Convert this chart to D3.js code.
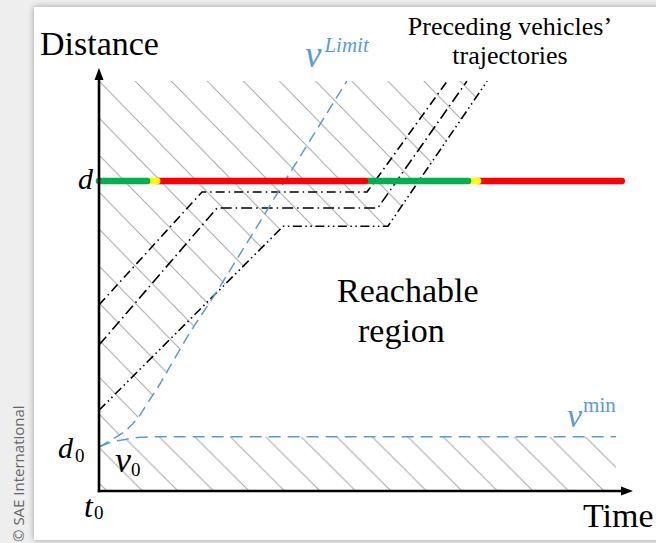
<!DOCTYPE html>
<html><head><meta charset="utf-8">
<script src="https://cdn.jsdelivr.net/npm/d3@7"></script>
<style>
body{margin:0;background:#eeeeee;}
svg{display:block;}
</style>
</head><body>
<script>
// ---------- data (time / distance in arbitrary units 0..100) ----------
const vLimitTime = [0, 2.6, 4.9, 7.1, 9.2, 11.4, 14.2, 17.0, 20.8, 26.4, 36.1, 46.4];
const vLimitDist = [10.4, 12.3, 14.2, 17.0, 21.0, 25.3, 31.4, 37.4, 44.7, 56.0, 75.9, 96.9];
const vMinTime = [0, 2.4, 4.9, 7.7, 10.5, 96.8];
const vMinDist = [10.4, 11.6, 12.2, 12.7, 12.8, 12.8];
const traj1Time = [0, 19.3, 50.2, 65.2];
const traj1Dist = [44.0, 70.7, 70.7, 96.9];
const traj2Time = [0, 22.1, 52.2, 68.9];
const traj2Dist = [34.5, 66.9, 66.9, 96.9];
const traj3Time = [0, 34.5, 54.1, 72.7];
const traj3Dist = [19.1, 62.6, 62.6, 96.9];
const signalStart = [0, 9.0, 10.9, 49.8, 69.1, 71.0];
const signalEnd   = [9.0, 10.9, 49.8, 69.1, 71.0, 97.9];
const signalColor = ["#00b050", "#ffff00", "#ff0000", "#00b050", "#ffff00", "#ff0000"];
const signalDist = 73.3;
const topDist = 96.9;
const distTickValues = [10.4, 73.3];
const distTickMain = ["d", "d"];
const distTickSub = ["0", ""];
const timeTickValues = [0];
const timeTickMain = ["t"];
const timeTickSub = ["0"];

// ---------- setup ----------
const W = 656, H = 543;
const x = d3.scaleLinear().domain([0, 100]).range([99, 633]);
const y = d3.scaleLinear().domain([0, 100]).range([491, 68]);
const serif = "'Liberation Serif','Times New Roman',serif";
const blue = "#5b9bd5";

const svg = d3.select("body").append("svg").attr("width", W).attr("height", H);
const defs = svg.append("defs");

// panel shadow
const f = defs.append("filter").attr("id", "sh").attr("x", "-5%").attr("y", "-5%").attr("width", "110%").attr("height", "110%");
f.append("feGaussianBlur").attr("in", "SourceAlpha").attr("stdDeviation", 3).attr("result", "b");
f.append("feOffset").attr("in", "b").attr("dx", 0).attr("dy", 0).attr("result", "o");
f.append("feComponentTransfer").attr("in", "o").attr("result", "o2")
  .append("feFuncA").attr("type", "linear").attr("slope", 0.35);
const fm = f.append("feMerge");
fm.append("feMergeNode").attr("in", "o2");
fm.append("feMergeNode").attr("in", "SourceGraphic");

svg.append("rect").attr("x", 34).attr("y", 7).attr("width", 640).attr("height", 533)
  .attr("fill", "#fff").attr("filter", "url(#sh)");

const zip = (ts, ds) => ts.map((t, i) => [t, ds[i]]);
const vLimit = zip(vLimitTime, vLimitDist);
const vMin = zip(vMinTime, vMinDist);
const trajs = [zip(traj1Time, traj1Dist), zip(traj2Time, traj2Dist), zip(traj3Time, traj3Dist)];

const lineLin = d3.line().x(d => x(d[0])).y(d => y(d[1]));
const lineCurve = d3.line().x(d => x(d[0])).y(d => y(d[1])).curve(d3.curveMonotoneX);

// hatch patterns
function hatch(id, w, h, ox, oy) {
  const p = defs.append("pattern").attr("id", id).attr("patternUnits", "userSpaceOnUse")
    .attr("x", ox).attr("y", oy).attr("width", w).attr("height", h);
  p.append("path")
    .attr("d", `M0,0L${w},${h}M${-3},${h - 3 * h / w}L3,${h + 3 * h / w}M${w - 3},${-3 * h / w}L${w + 3},${3 * h / w}`)
    .attr("stroke", "#a6a6a6").attr("stroke-width", 1).attr("fill", "none");
}
hatch("hU", 36.1, 37.0, 99, 81);
hatch("hL", 35.5, 35.5, 107, 491);

// clip: unreachable region above v^Limit OR above lowest preceding trajectory
const cU = defs.append("clipPath").attr("id", "cU");
cU.append("path").attr("d", lineCurve(vLimit) + `L${x(0)},${y(topDist)}Z`);
cU.append("path").attr("d", lineLin(trajs[2]) + `L${x(0)},${y(topDist)}Z`);
const cL = defs.append("clipPath").attr("id", "cL");
cL.append("path").attr("d", lineCurve(vMin) + `L${x(vMinTime[vMinTime.length - 1])},${y(0)}L${x(0)},${y(0)}Z`);

svg.append("rect").attr("x", 0).attr("y", 0).attr("width", W).attr("height", H)
  .attr("fill", "url(#hU)").attr("clip-path", "url(#cU)");
svg.append("rect").attr("x", 0).attr("y", 0).attr("width", W).attr("height", H)
  .attr("fill", "url(#hL)").attr("clip-path", "url(#cL)");

// preceding vehicles' trajectories
const dashes = ["9,4,1.5,4", "11,4,1.5,4", "9,3.5,1.5,3.5,1.5,3.5"];
trajs.forEach((tr, i) => {
  svg.append("path").attr("d", lineLin(tr)).attr("fill", "none")
    .attr("stroke", "#000").attr("stroke-width", 1.6).attr("stroke-dasharray", dashes[i]);
});

// speed limit curves
svg.append("path").attr("d", lineCurve(vLimit)).attr("fill", "none")
  .attr("stroke", blue).attr("stroke-width", 1.5).attr("stroke-dasharray", "11,6");
svg.append("path").attr("d", lineCurve(vMin)).attr("fill", "none")
  .attr("stroke", blue).attr("stroke-width", 1.5).attr("stroke-dasharray", "12,7");

// signal bar at distance d (drawn right to left so each right cap overlays next segment)
d3.range(signalStart.length).reverse().forEach(i => {
  svg.append("line")
    .attr("x1", x(signalStart[i])).attr("x2", x(signalEnd[i]))
    .attr("y1", y(signalDist)).attr("y2", y(signalDist))
    .attr("stroke", signalColor[i]).attr("stroke-width", 6.5).attr("stroke-linecap", "round");
});

// axes
svg.append("line").attr("x1", x(0)).attr("x2", x(0)).attr("y1", y(0) + 1.2).attr("y2", y(100) + 8)
  .attr("stroke", "#000").attr("stroke-width", 2.6);
svg.append("line").attr("x1", x(0) - 1.2).attr("x2", x(100) - 8).attr("y1", y(0)).attr("y2", y(0))
  .attr("stroke", "#000").attr("stroke-width", 2.6);
svg.append("path").attr("d", `M${x(0)},${y(100)}L${x(0) - 4.5},${y(100) + 12}L${x(0) + 4.5},${y(100) + 12}Z`).attr("fill", "#000");
svg.append("path").attr("d", `M${x(100)},${y(0)}L${x(100) - 12},${y(0) - 4.5}L${x(100) - 12},${y(0) + 4.5}Z`).attr("fill", "#000");

// axis tick labels
distTickValues.forEach((v, i) => {
  const t = svg.append("text").attr("font-family", serif).attr("fill", "#000")
    .attr("x", x(0) - (distTickSub[i] ? 41 : 21)).attr("y", y(v) + (distTickSub[i] ? 11 : 8));
  t.append("tspan").attr("font-style", "italic").attr("font-size", 30).text(distTickMain[i]);
  if (distTickSub[i]) t.append("tspan").attr("font-size", 19).attr("dx", 2).attr("dy", 4).text(distTickSub[i]);
});
timeTickValues.forEach((v, i) => {
  const t = svg.append("text").attr("font-family", serif).attr("fill", "#000")
    .attr("x", x(v) - 15).attr("y", y(0) + 26);
  t.append("tspan").attr("font-style", "italic").attr("font-size", 32).text(timeTickMain[i]);
  t.append("tspan").attr("font-size", 19).attr("dx", 1).attr("dy", 2).text(timeTickSub[i]);
});

// v0
const v0 = svg.append("text").attr("font-family", serif).attr("x", 115).attr("y", 472);
v0.append("tspan").attr("font-style", "italic").attr("font-size", 36).text("v");
v0.append("tspan").attr("font-size", 19).attr("dx", 0).attr("dy", 4).text("0");

// v^Limit
const vl = svg.append("text").attr("font-family", serif).attr("fill", blue).attr("x", 305).attr("y", 67);
vl.append("tspan").attr("font-style", "italic").attr("font-size", 37).text("v");
vl.append("tspan").attr("font-style", "italic").attr("font-size", 21).attr("dx", 3).attr("dy", -15).text("Limit");

// v^min
const vm = svg.append("text").attr("font-family", serif).attr("fill", blue).attr("x", 567).attr("y", 427);
vm.append("tspan").attr("font-style", "italic").attr("font-size", 34).text("v");
vm.append("tspan").attr("font-size", 21).attr("dx", 1).attr("dy", -15).text("min");

// titles
svg.append("text").attr("font-family", serif).attr("font-size", 34).attr("x", 40).attr("y", 55).text("Distance");
svg.append("text").attr("font-family", serif).attr("font-size", 34).attr("x", 583).attr("y", 527).text("Time");
svg.append("text").attr("font-family", serif).attr("font-size", 26).attr("text-anchor", "middle")
  .attr("x", 510).attr("y", 35).text("Preceding vehicles\u2019");
svg.append("text").attr("font-family", serif).attr("font-size", 26).attr("text-anchor", "middle")
  .attr("x", 510).attr("y", 64).text("trajectories");
svg.append("text").attr("font-family", serif).attr("font-size", 34).attr("x", 337).attr("y", 302).text("Reachable");
svg.append("text").attr("font-family", serif).attr("font-size", 34).attr("x", 358).attr("y", 342).text("region");

// copyright
svg.append("text").attr("font-family", "'Open Sans',sans-serif").attr("font-size", 15).attr("fill", "#666")
  .attr("transform", "translate(24,542) rotate(-90)").text("\u00a9 SAE International");
</script>
</body></html>
